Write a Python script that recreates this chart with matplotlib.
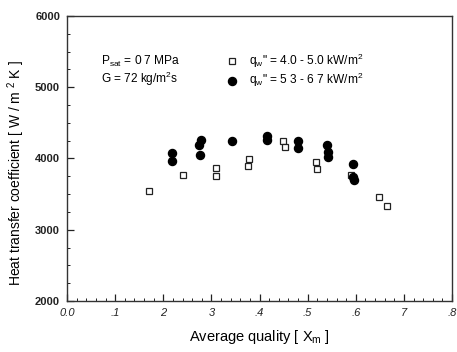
import matplotlib
matplotlib.use("Agg")
import matplotlib.pyplot as plt
from matplotlib.ticker import MultipleLocator

plt.rcParams['font.family'] = ['Liberation Sans', 'DejaVu Sans']
plt.rcParams['mathtext.default'] = 'regular'

# Series 1: q_w" = 4.0 - 5.0 kW/m2 (open squares)
sq_x = [0.170, 0.240, 0.309, 0.309, 0.378, 0.376, 0.448, 0.453, 0.517, 0.520, 0.590, 0.649, 0.664]
sq_y = [3544, 3768, 3871, 3754, 3989, 3895, 4246, 4161, 3947, 3848, 3768, 3453, 3333]

# Series 2: q_w" = 5.3 - 6.7 kW/m2 (filled circles)
dot_x = [0.219, 0.219, 0.278, 0.274, 0.276, 0.342, 0.415, 0.416, 0.479, 0.479, 0.540, 0.542, 0.543, 0.595, 0.595, 0.597]
dot_y = [4081, 3965, 4260, 4190, 4049, 4250, 4316, 4253, 4246, 4143, 4190, 4095, 4025, 3919, 3740, 3698]

xtick_vals = [0.0, 0.1, 0.2, 0.3, 0.4, 0.5, 0.6, 0.7, 0.8]
xtick_labels = ["0.0", ".1", "2", "3", ".4", ".5", ".6", "7", ".8"]
ytick_vals = [2000, 3000, 4000, 5000, 6000]

W, H = 457, 352
fig = plt.figure(figsize=(W / 100, H / 100), dpi=100)
ax = fig.add_axes([67 / W, 1 - 301 / H, (452 - 67) / W, (301 - 16) / H])

ax.plot(sq_x, sq_y, linestyle='none', marker='s', markersize=4.8,
        markerfacecolor='white', markeredgecolor='#222222', markeredgewidth=0.9, zorder=3)
ax.plot(dot_x, dot_y, linestyle='none', marker='o', markersize=5.8,
        markerfacecolor='black', markeredgecolor='black', zorder=4)

ax.set_xlim(0.0, 0.8)
ax.set_ylim(2000, 6000)
ax.set_xticks(xtick_vals)
ax.set_xticklabels(xtick_labels, fontstyle='italic')
ax.set_yticks(ytick_vals)
ax.xaxis.set_minor_locator(MultipleLocator(0.02))
ax.yaxis.set_minor_locator(MultipleLocator(250))
ax.tick_params(which='major', direction='in', length=5, width=0.9, labelsize=8, colors='#222222', pad=5)
ax.tick_params(which='minor', direction='in', length=2.5, width=0.7, colors='#222222')
ax.tick_params(axis='x', which='both', top=False)
for lab in ax.get_yticklabels():
    lab.set_fontweight('bold')
for s in ax.spines.values():
    s.set_color('#333333')
    s.set_linewidth(1.0)

ax.set_xlabel("Average quality [ X$_m$ ]", fontsize=10.5)
ax.xaxis.set_label_coords(0.5, -0.095)
ax.xaxis.label.set_va('top')
ax.set_ylabel("Heat transfer coefficient [ W / m $^{2}$ K ]", fontsize=10)
ax.yaxis.set_label_coords(-0.105, 0.45)

def px(xp, yp):
    return ((xp - 67) / (452 - 67), (301 - yp) / (301 - 16))

fs = 8.6
ax.text(*px(101, 61), "P$_{sat}$ = 0 7 MPa", transform=ax.transAxes, fontsize=fs, va='center', ha='left')
ax.text(*px(101, 79), "G = 72 kg/m$^2$s", transform=ax.transAxes, fontsize=fs, va='center', ha='left')
ax.plot(*px(231.7, 61), transform=ax.transAxes, marker='s', markersize=4.8,
        markerfacecolor='white', markeredgecolor='#222222', markeredgewidth=0.9, linestyle='none')
ax.plot(*px(231.7, 81), transform=ax.transAxes, marker='o', markersize=5.8,
        markerfacecolor='black', markeredgecolor='black', linestyle='none')
ax.text(*px(249, 61), "q$_w$\" = 4.0 - 5.0 kW/m$^2$", transform=ax.transAxes, fontsize=fs, va='center', ha='left')
ax.text(*px(249, 80), "q$_w$\" = 5 3 - 6 7 kW/m$^2$", transform=ax.transAxes, fontsize=fs, va='center', ha='left')

fig.savefig("out.png", dpi=100)
